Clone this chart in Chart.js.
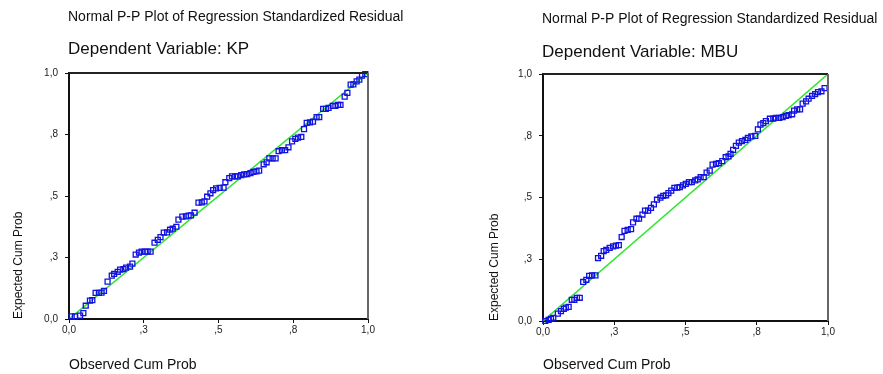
<!DOCTYPE html>
<html>
<head>
<meta charset="utf-8">
<script src="https://cdn.jsdelivr.net/npm/chart.js@4/dist/chart.umd.min.js"></script>
<style>
  html, body { margin: 0; padding: 0; background: #fff; }
  .box { position: absolute; top: 0; height: 374px; }
  #leftBox { left: 0; width: 440px; }
  #rightBox { left: 440px; width: 443px; }
</style>
</head>
<body>
<div class="box" id="leftBox"><canvas id="kpChart"></canvas></div>
<div class="box" id="rightBox"><canvas id="mbuChart"></canvas></div>
<script>
// P-P plot values
const kpObserved = [0.009, 0.020, 0.037, 0.048, 0.056, 0.070, 0.078, 0.089, 0.100, 0.109,
  0.117, 0.129, 0.143, 0.151, 0.163, 0.171, 0.182, 0.191, 0.204, 0.212,
  0.223, 0.234, 0.243, 0.254, 0.263, 0.273, 0.286, 0.297, 0.306, 0.317,
  0.328, 0.338, 0.347, 0.359, 0.366, 0.379, 0.391, 0.400, 0.408, 0.420,
  0.433, 0.444, 0.453, 0.462, 0.473, 0.482, 0.492, 0.504, 0.517, 0.523,
  0.536, 0.545, 0.556, 0.565, 0.576, 0.586, 0.596, 0.607, 0.617, 0.627,
  0.636, 0.651, 0.661, 0.670, 0.681, 0.691, 0.701, 0.712, 0.723, 0.734,
  0.746, 0.757, 0.766, 0.777, 0.786, 0.795, 0.806, 0.816, 0.828, 0.837,
  0.850, 0.859, 0.868, 0.882, 0.891, 0.900, 0.908, 0.922, 0.931, 0.942,
  0.951, 0.962, 0.971, 0.980, 0.991];
const kpExpected = [0.011, 0.011, 0.014, 0.024, 0.054, 0.075, 0.077, 0.106, 0.106, 0.107,
  0.114, 0.152, 0.176, 0.183, 0.192, 0.201, 0.203, 0.209, 0.213, 0.225,
  0.262, 0.270, 0.274, 0.274, 0.274, 0.274, 0.310, 0.322, 0.333, 0.351,
  0.352, 0.363, 0.367, 0.375, 0.404, 0.416, 0.417, 0.420, 0.421, 0.432,
  0.473, 0.474, 0.478, 0.497, 0.511, 0.524, 0.531, 0.533, 0.534, 0.556,
  0.573, 0.580, 0.580, 0.580, 0.585, 0.588, 0.589, 0.593, 0.598, 0.600,
  0.603, 0.629, 0.637, 0.653, 0.653, 0.653, 0.682, 0.686, 0.686, 0.698,
  0.722, 0.732, 0.737, 0.740, 0.772, 0.797, 0.799, 0.802, 0.821, 0.821,
  0.854, 0.854, 0.858, 0.866, 0.866, 0.870, 0.870, 0.904, 0.919, 0.953,
  0.954, 0.966, 0.973, 0.989, 0.995];

const mbuObserved = [0.008, 0.020, 0.028, 0.036, 0.052, 0.063, 0.073, 0.080, 0.090, 0.101,
  0.110, 0.119, 0.129, 0.141, 0.152, 0.162, 0.172, 0.184, 0.193, 0.204,
  0.213, 0.222, 0.234, 0.246, 0.256, 0.266, 0.276, 0.286, 0.297, 0.309,
  0.316, 0.328, 0.337, 0.349, 0.358, 0.369, 0.379, 0.389, 0.400, 0.412,
  0.422, 0.432, 0.440, 0.450, 0.461, 0.471, 0.480, 0.491, 0.501, 0.512,
  0.522, 0.534, 0.543, 0.553, 0.564, 0.574, 0.585, 0.595, 0.607, 0.617,
  0.629, 0.641, 0.651, 0.658, 0.667, 0.677, 0.687, 0.698, 0.710, 0.719,
  0.731, 0.745, 0.754, 0.763, 0.773, 0.782, 0.796, 0.808, 0.817, 0.829,
  0.841, 0.852, 0.862, 0.874, 0.881, 0.892, 0.902, 0.911, 0.923, 0.932,
  0.944, 0.955, 0.965, 0.977, 0.988];
const mbuExpected = [0.000, 0.005, 0.009, 0.013, 0.030, 0.040, 0.049, 0.054, 0.057, 0.086,
  0.086, 0.094, 0.094, 0.158, 0.167, 0.183, 0.185, 0.185, 0.255, 0.264,
  0.283, 0.288, 0.296, 0.302, 0.305, 0.307, 0.340, 0.365, 0.369, 0.372,
  0.399, 0.414, 0.414, 0.431, 0.447, 0.447, 0.458, 0.472, 0.491, 0.499,
  0.507, 0.509, 0.518, 0.528, 0.539, 0.540, 0.542, 0.549, 0.555, 0.562,
  0.562, 0.569, 0.573, 0.582, 0.582, 0.601, 0.609, 0.633, 0.636, 0.639,
  0.647, 0.663, 0.666, 0.677, 0.693, 0.709, 0.722, 0.728, 0.733, 0.741,
  0.747, 0.749, 0.776, 0.795, 0.801, 0.809, 0.819, 0.819, 0.822, 0.822,
  0.825, 0.830, 0.833, 0.837, 0.852, 0.857, 0.857, 0.880, 0.889, 0.900,
  0.911, 0.919, 0.927, 0.930, 0.943];

const refLine = [0, 1];
const tickValues = [0, 0.25, 0.5, 0.75, 1];
const tickLabels = ['0,0', ',3', ',5', ',8', '1,0'];

const FONT = 'Arial, "Liberation Sans", sans-serif';

// titles above the plot + the box frame (top and right edges)
const headingPlugin = {
  id: 'headings',
  afterDraw(chart, args, opts) {
    const { ctx, chartArea } = chart;
    ctx.save();
    ctx.strokeStyle = '#222';
    ctx.lineWidth = 2;
    ctx.beginPath();
    ctx.moveTo(chartArea.left, chartArea.top);
    ctx.lineTo(chartArea.right, chartArea.top);
    ctx.stroke();
    ctx.strokeStyle = '#666';
    ctx.beginPath();
    ctx.moveTo(chartArea.right, chartArea.top);
    ctx.lineTo(chartArea.right, chartArea.bottom);
    ctx.stroke();

    ctx.fillStyle = '#111';
    ctx.textBaseline = 'middle';
    ctx.font = '14px ' + FONT;
    ctx.fillText(opts.title, chartArea.left - 1, opts.titleY);
    ctx.font = '17px ' + FONT;
    ctx.fillText(opts.subtitle, chartArea.left - 1, opts.subtitleY);
    ctx.restore();
  }
};

function tickCallback(value) {
  const i = tickValues.indexOf(value);
  return i >= 0 ? tickLabels[i] : '';
}

function makeChart(id, observed, expected, cfg) {
  const points = observed.map((x, i) => ({ x: x, y: expected[i] }));
  const line = refLine.map(v => ({ x: v, y: v }));

  return new Chart(document.getElementById(id).getContext('2d'), {
    type: 'scatter',
    data: {
      datasets: [{
        data: points,
        pointStyle: 'rect',
        pointRadius: 3.5,
        pointBorderWidth: 1.3,
        borderColor: '#1212e0',
        backgroundColor: 'rgba(255,255,255,0)',
        clip: false
      }, {
        data: line,
        showLine: true,
        borderColor: '#2ee82e',
        borderWidth: 1.5,
        pointRadius: 0
      }]
    },
    options: {
      responsive: true,
      maintainAspectRatio: false,
      animation: false,
      layout: { padding: { top: cfg.top, right: cfg.right, left: cfg.left, bottom: 0 } },
      plugins: {
        legend: { display: false },
        tooltip: { enabled: false },
        headings: {
          title: 'Normal P-P Plot of Regression Standardized Residual',
          subtitle: cfg.subtitle,
          titleY: cfg.titleY,
          subtitleY: cfg.subtitleY
        }
      },
      scales: {
        x: {
          type: 'linear',
          min: 0,
          max: 1,
          afterBuildTicks: s => { s.ticks = tickValues.map(v => ({ value: v })); },
          afterFit: s => { s.height = cfg.xHeight; },
          ticks: { callback: tickCallback, color: '#222', font: { size: 10, family: FONT }, padding: 1, maxRotation: 0 },
          grid: { drawOnChartArea: false, drawTicks: true, tickLength: 4, color: '#111' },
          border: { color: '#111', width: 2 },
          title: { display: true, text: 'Observed Cum Prob', align: 'start', color: '#111',
                   font: { size: 14, family: FONT }, padding: { top: 0, bottom: 0 } }
        },
        y: {
          type: 'linear',
          min: 0,
          max: 1,
          afterBuildTicks: s => { s.ticks = tickValues.map(v => ({ value: v })); },
          afterFit: s => { s.width = 69; },
          ticks: { callback: tickCallback, color: '#222', font: { size: 10, family: FONT }, padding: 7 },
          grid: { drawOnChartArea: false, drawTicks: true, tickLength: 4, color: '#111' },
          border: { color: '#111', width: 2 },
          title: { display: true, text: 'Expected Cum Prob', align: 'start', color: '#111',
                   font: { size: 12, family: FONT }, padding: { top: cfg.yTitlePad, bottom: 0 } }
        }
      }
    },
    plugins: [headingPlugin]
  });
}

makeChart('kpChart', kpObserved, kpExpected, {
  subtitle: 'Dependent Variable: KP',
  top: 73, right: 72, left: 0, xHeight: 55,
  titleY: 17, subtitleY: 49.5, yTitlePad: 11
});

makeChart('mbuChart', mbuObserved, mbuExpected, {
  subtitle: 'Dependent Variable: MBU',
  top: 74, right: 55, left: 34, xHeight: 53,
  titleY: 19.5, subtitleY: 52, yTitlePad: 13
});
</script>
</body>
</html>
